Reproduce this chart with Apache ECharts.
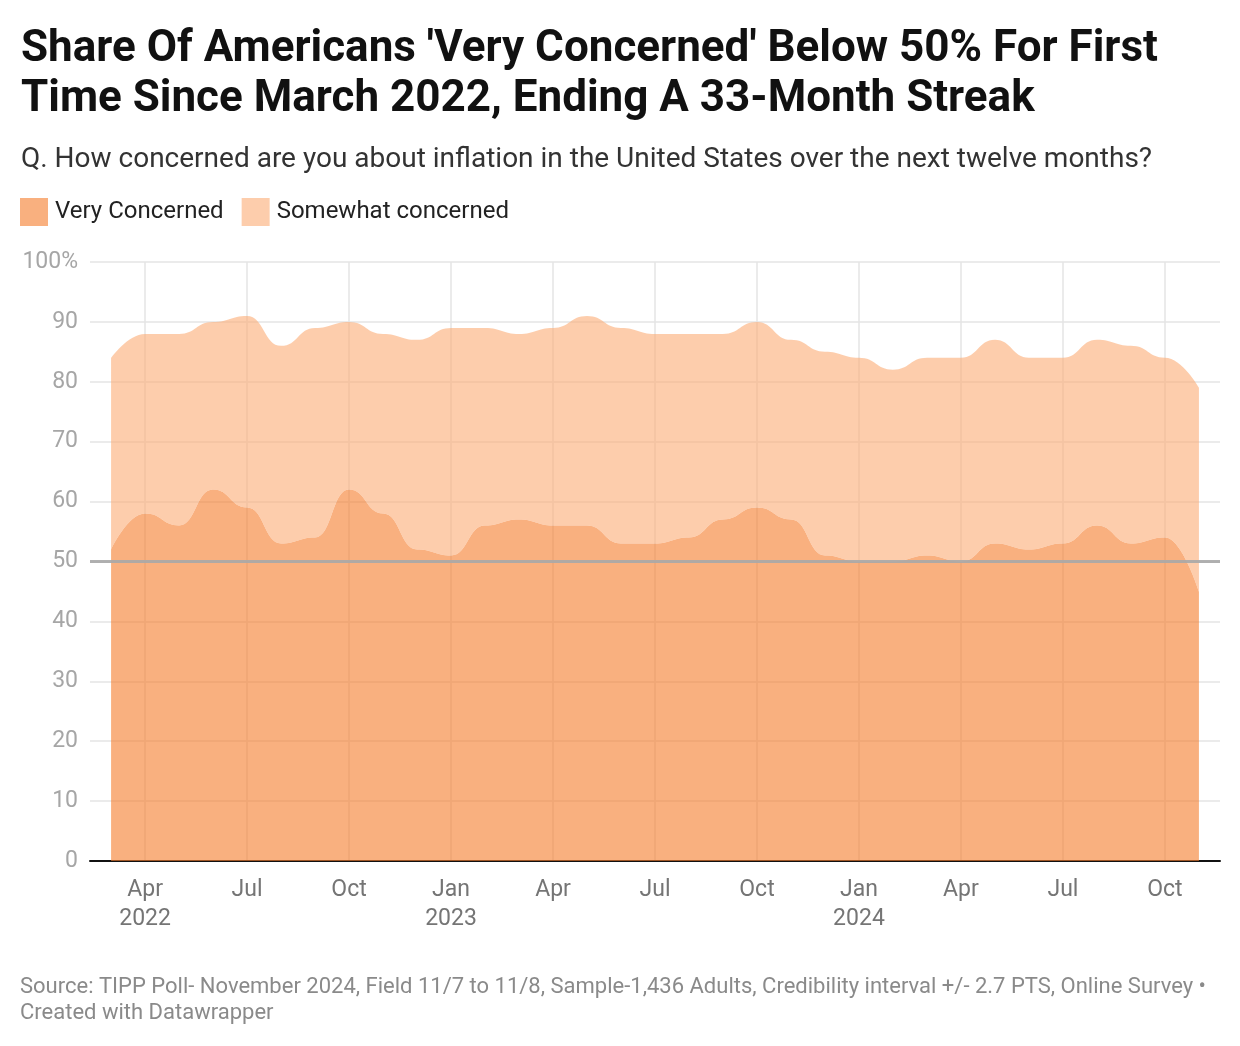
<!DOCTYPE html>
<html>
<head>
<meta charset="utf-8">
<script src="https://cdn.jsdelivr.net/npm/echarts@6/dist/echarts.min.js"></script>
<style>
html,body{margin:0;padding:0;background:#fff;}
#chart{width:1240px;height:1046px;}
</style>
</head>
<body>
<div id="chart"></div>
<script>
// Months from March 2022 to November 2024 (x index 0 = Mar 2022)
const months = ['2022-03','2022-04','2022-05','2022-06','2022-07','2022-08','2022-09','2022-10','2022-11','2022-12',
  '2023-01','2023-02','2023-03','2023-04','2023-05','2023-06','2023-07','2023-08','2023-09','2023-10','2023-11','2023-12',
  '2024-01','2024-02','2024-03','2024-04','2024-05','2024-06','2024-07','2024-08','2024-09','2024-10','2024-11'];
const veryConcerned = [52,58,56,62,59,53,54,62,58,52, 51,56,57,56,56,53,53,54,57,59,57,51, 50,50,51,50,53,52,53,56,53,54,45];
const somewhatConcerned = [32,30,32,28,32,33,35,28,30,35, 38,33,31,33,35,36,35,34,31,31,30,34, 34,32,33,34,34,32,31,31,33,30,34];
const tickMonths = ['2022-04','2022-07','2022-10','2023-01','2023-04','2023-07','2023-10','2024-01','2024-04','2024-07','2024-10'];
const tickLabels = ['Apr\n2022','Jul','Oct','Jan\n2023','Apr','Jul','Oct','Jan\n2024','Apr','Jul','Oct'];
const threshold = 50;

const tickIdx = tickMonths.map(m => months.indexOf(m));
// value first so that the value dimension is the stacked one
const veryData = veryConcerned.map((v,i) => [v, i]);
const somewhatData = somewhatConcerned.map((v,i) => [v, i]);

const chart = echarts.init(document.getElementById('chart'), null, {renderer:'canvas'});
const FONT = 'Roboto';
chart.setOption({
  backgroundColor:'#fff',
  animation:false,
  textStyle:{fontFamily:FONT},
  title:[
    {text:"Share Of Americans 'Very Concerned' Below 50% For First\nTime Since March 2022, Ending A 33-Month Streak",
     left:21, top:25, padding:0,
     textStyle:{fontFamily:FONT, fontWeight:'bold', fontSize:44, lineHeight:50, color:'#111'}},
    {text:'Q. How concerned are you about inflation in the United States over the next twelve months?',
     left:21, top:145, padding:0,
     textStyle:{fontFamily:FONT, fontWeight:'normal', fontSize:28, lineHeight:30, color:'#333'}},
    {text:'Source: TIPP Poll- November 2024, Field 11/7 to 11/8, Sample-1,436 Adults, Credibility interval +/- 2.7 PTS, Online Survey •\nCreated with Datawrapper',
     left:20, top:974, padding:0,
     textStyle:{fontFamily:FONT, fontWeight:'normal', fontSize:22, lineHeight:26, color:'#8a8a8a'}}
  ],
  legend:{
    left:20, top:198, padding:0, icon:'rect', itemWidth:28, itemHeight:28, itemGap:18,
    selectedMode:false,
    textStyle:{fontFamily:FONT, fontSize:24, color:'#222', padding:[0,0,0,2]},
    data:[
      {name:'Very Concerned', itemStyle:{color:'#f9b07f', opacity:1}},
      {name:'Somewhat concerned', itemStyle:{color:'#fdcdac', opacity:1}}
    ]
  },
  grid:{left:90, right:20, top:262, bottom:185, containLabel:false},
  xAxis:{
    type:'value', min:-0.62, max:32.62,
    axisLine:{show:true, onZero:true, lineStyle:{color:'#111', width:2}},
    axisTick:{show:false, customValues:tickIdx},
    axisLabel:{customValues:tickIdx, fontFamily:FONT, fontSize:23, lineHeight:29, color:'#757575', margin:15,
      formatter:(v)=>{const k=tickIdx.indexOf(Math.round(v)); return k>=0?tickLabels[k]:'';}},
    splitLine:{show:true, lineStyle:{color:'#e4e4e4', width:1.5}}
  },
  yAxis:{
    type:'value', min:0, max:100, interval:10,
    axisLine:{show:false}, axisTick:{show:false},
    axisLabel:{fontFamily:FONT, fontSize:23, color:'#a6a6a6', margin:12, padding:[4,0,0,0],
      formatter:(v)=> v===100 ? '100%' : String(v)},
    splitLine:{show:true, lineStyle:{color:'#e4e4e4', width:1.5}}
  },
  series:[
    {name:'Very Concerned', type:'line', stack:'total', data:veryData, encode:{x:1, y:0},
     smooth:0.5, smoothMonotone:'x', symbol:'none',
     lineStyle:{width:0}, itemStyle:{color:'#f9b07f'},
     areaStyle:{color:'rgb(245,128,48)', opacity:0.62},
     z:2,
     markLine:{silent:true, symbol:'none', label:{show:false},
       lineStyle:{color:'#a8a8a8', width:3, type:'solid', opacity:0.9},
       data:[{yAxis:threshold}]}
    },
    {name:'Somewhat concerned', type:'line', stack:'total', data:somewhatData, encode:{x:1, y:0},
     smooth:0.5, smoothMonotone:'x', symbol:'none',
     lineStyle:{width:0}, itemStyle:{color:'#fdcdac'},
     areaStyle:{color:'rgb(252,174,121)', opacity:0.62},
     z:2}
  ]
});
</script>
</body>
</html>
